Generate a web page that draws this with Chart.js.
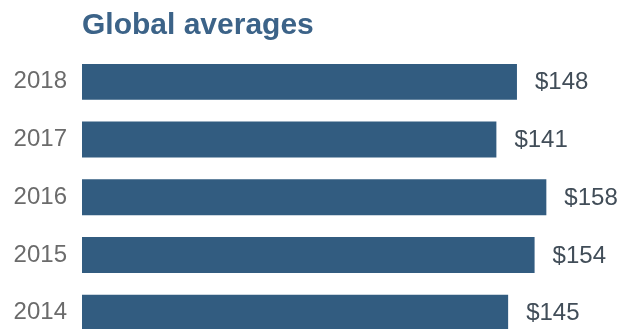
<!DOCTYPE html>
<html>
<head>
<meta charset="utf-8">
<script src="https://cdn.jsdelivr.net/npm/chart.js@4/dist/chart.umd.min.js"></script>
<style>
  html, body { margin: 0; padding: 0; background: #fff; overflow: hidden; }
  canvas { display: block; }
</style>
</head>
<body>
<canvas id="chart" width="621" height="371"></canvas>
<script>
// 数据
const years = ["2018", "2017", "2016", "2015", "2014"];
const averages = [148, 141, 158, 154, 145];
const axisMax = 180;

// 标题：与图表区左边对齐
const titlePlugin = {
  id: "leftTitle",
  afterDraw(chart) {
    const ctx = chart.ctx;
    ctx.save();
    ctx.font = "bold 30px 'Liberation Sans', Arial, sans-serif";
    ctx.fillStyle = "#3c6388";
    ctx.textAlign = "left";
    ctx.textBaseline = "alphabetic";
    ctx.fillText("Global averages", chart.chartArea.left, 34);
    ctx.restore();
  },
};

// 柱子末端的数值标签
const valueLabels = {
  id: "valueLabels",
  afterDatasetsDraw(chart) {
    const ctx = chart.ctx;
    const meta = chart.getDatasetMeta(0);
    ctx.save();
    ctx.font = "24px 'Liberation Sans', Arial, sans-serif";
    ctx.fillStyle = "#414d58";
    ctx.textAlign = "left";
    ctx.textBaseline = "middle";
    meta.data.forEach((bar, i) => {
      ctx.fillText("$" + averages[i], bar.x + 18, bar.y + 1);
    });
    ctx.restore();
  },
};

new Chart(document.getElementById("chart"), {
  type: "bar",
  data: {
    labels: years,
    datasets: [
      {
        data: averages,
        backgroundColor: "#325c80",
        borderWidth: 0,
        barPercentage: 0.623,
        categoryPercentage: 1,
      },
    ],
  },
  options: {
    indexAxis: "y",
    responsive: false,
    devicePixelRatio: 1,
    animation: false,
    layout: { padding: { top: 53, right: 10, bottom: 0, left: 0 } },
    plugins: {
      legend: { display: false },
      tooltip: { enabled: false },
    },
    scales: {
      x: {
        display: false,
        min: 0,
        max: axisMax,
      },
      y: {
        afterFit(scale) {
          scale.width = 82;
        },
        grid: { display: false, drawTicks: false },
        border: { display: false },
        ticks: {
          color: "#6b6b6b",
          padding: 15,
          font: { family: "'Liberation Sans', Arial, sans-serif", size: 24 },
        },
      },
    },
  },
  plugins: [titlePlugin, valueLabels],
});
</script>
</body>
</html>
